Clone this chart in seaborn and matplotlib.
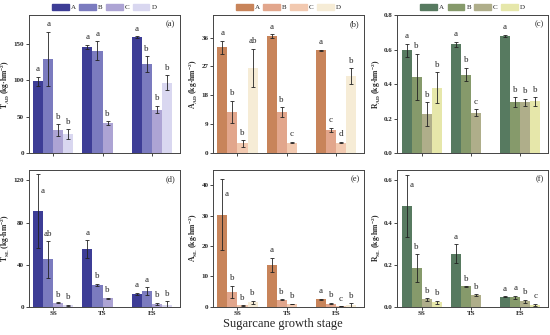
import numpy as np
import pandas as pd
import matplotlib
matplotlib.use("Agg")
import matplotlib.pyplot as plt
import seaborn as sns

# stages and treatments
stages = ["SS", "TS", "ES"]
treatments = ["A", "B", "C", "D"]

# panel (a) T_AD
t_ad = [[99, 130, 32, 26], [146, 141, 41, np.nan], [160, 122, 60, 97]]
t_ad_err = [[6, 37, 8, 7], [3, 13, 3, 0], [1, 11, 5, 10]]
t_ad_lab = [["a", "a", "b", "b"], ["a", "a", "b", ""], ["a", "b", "b", "b"]]

# panel (b) A_AD
a_ad = [[33, 12.8, 3.0, 26.5], [36.5, 12.8, 3.3, np.nan], [32, 7.2, 3.3, 24]]
a_ad_err = [[2, 3.5, 1, 6], [0.6, 1.5, 0.3, 0], [0.2, 0.7, 0.2, 2.5]]
a_ad_lab = [["a", "b", "b", "ab"], ["a", "b", "c", ""], ["a", "c", "d", "b"]]

# panel (c) R_AD
r_ad = [[0.595, 0.44, 0.225, 0.38], [0.63, 0.455, 0.235, np.nan], [0.68, 0.295, 0.295, 0.30]]
r_ad_err = [[0.04, 0.135, 0.07, 0.09], [0.015, 0.04, 0.02, 0], [0.005, 0.03, 0.02, 0.025]]
r_ad_lab = [["a", "b", "b", "b"], ["a", "b", "c", ""], ["a", "b", "b", "b"]]

# panel (d) T_SL
t_sl = [[91, 45, 4, 1.5], [55, 21, 8, np.nan], [12.5, 15, 3, 2]]
t_sl_err = [[35, 17.5, 0.6, 0.5], [8.5, 1, 0.5, 0], [1, 3.5, 1, 3.5]]
t_sl_lab = [["a", "ab", "b", "b"], ["a", "b", "b", ""], ["a", "a", "b", "b"]]

# panel (e) A_SL
a_sl = [[30.3, 5.0, 0.5, 1.5], [13.8, 2.3, 0.9, np.nan], [2.5, 1.1, 0.2, 0.6]]
a_sl_err = [[11.7, 2.0, 0.1, 0.5], [2.3, 0.2, 0.1, 0], [0.2, 0.3, 0.05, 0.6]]
a_sl_lab = [["a", "b", "b", "b"], ["a", "b", "b", ""], ["a", "b", "c", "b"]]

# panel (f) R_SL
r_sl = [[0.48, 0.185, 0.035, 0.022], [0.253, 0.097, 0.055, np.nan], [0.048, 0.045, 0.027, 0.008]]
r_sl_err = [[0.147, 0.065, 0.005, 0.008], [0.045, 0.002, 0.005, 0], [0.002, 0.008, 0.007, 0.006]]
r_sl_lab = [["a", "b", "b", "b"], ["a", "b", "b", ""], ["a", "a", "b", "c"]]

blues = ["#3d3d96", "#7b7bbf", "#ada4d4", "#d9d7f0"]
oranges = ["#c8845a", "#e2a68c", "#f2c9b0", "#f6ecd6"]
greens = ["#577a60", "#869a6b", "#afae8a", "#e6e7aa"]

sns.set_style("ticks")
plt.rcParams["font.family"] = ["Liberation Serif", "DejaVu Serif"]
plt.rcParams["mathtext.fontset"] = "custom"
plt.rcParams["mathtext.rm"] = "Liberation Serif"
plt.rcParams["mathtext.bf"] = "Liberation Serif:bold"

fig = plt.figure(figsize=(5.5, 3.35), dpi=100)

panels = [
    (t_ad, t_ad_err, t_ad_lab, blues, "T", "AD", [0, 50, 100, 150], 190, "(a)", "{:.0f}"),
    (a_ad, a_ad_err, a_ad_lab, oranges, "A", "AD", [0, 9, 18, 27, 36], 43, "(b)", "{:.0f}"),
    (r_ad, r_ad_err, r_ad_lab, greens, "R", "AD", [0, 0.2, 0.4, 0.6, 0.8], 0.8, "(c)", "{:.1f}"),
    (t_sl, t_sl_err, t_sl_lab, blues, "T", "SL", [0, 40, 80, 120], 130, "(d)", "{:.0f}"),
    (a_sl, a_sl_err, a_sl_lab, oranges, "A", "SL", [0, 10, 20, 30, 40], 45, "(e)", "{:.0f}"),
    (r_sl, r_sl_err, r_sl_lab, greens, "R", "SL", [0, 0.2, 0.4, 0.6], 0.65, "(f)", "{:.1f}"),
]

lefts = [0.052, 0.387, 0.722]
width = 0.275
rows = [(0.543, 0.412), (0.084, 0.409)]

for i, (vals, errs, labs, pal, sym, sub, ticks, ytop, tag, fmt) in enumerate(panels):
    row, col = divmod(i, 3)
    ax = fig.add_axes([lefts[col], rows[row][0], width, rows[row][1]])

    df = pd.DataFrame({
        "stage": np.repeat(stages, len(treatments)),
        "treatment": treatments * len(stages),
        "value": np.array(vals, dtype=float).ravel(),
    })
    sns.barplot(data=df, x="stage", y="value", hue="treatment", order=stages,
                hue_order=treatments, palette=pal, errorbar=None, width=0.82,
                saturation=1, linewidth=0, legend=False, ax=ax)

    # error bars and significance letters from the drawn bars
    for container, tr in zip(ax.containers, treatments):
        j = treatments.index(tr)
        for bar in container:
            h = bar.get_height()
            if np.isnan(h):
                continue
            xc = bar.get_x() + bar.get_width() / 2
            k = int(round(xc))
            e = errs[k][j]
            ax.errorbar(xc, h, yerr=e, fmt="none", ecolor="#222222",
                        elinewidth=0.6, capsize=1.6, capthick=0.6)
            ty = h + e + ytop * 0.025
            tx = xc
            if ty > 0.93 * ytop:
                # tall error bar: put the letter beside it
                ty = h + 0.12 * ytop
                tx = xc + bar.get_width() * 0.45
            ax.text(tx, ty, labs[k][j], ha="center", va="bottom", fontsize=6.5)

    ax.set_xlim(-0.5, 2.57)
    ax.set_ylim(0, ytop)
    ax.set_yticks(ticks)
    ax.set_yticklabels([fmt.format(t) for t in ticks], fontweight="bold")
    ax.tick_params(axis="both", labelsize=5, length=2, width=0.6, pad=1.2)
    ax.set_xlabel("")
    ax.set_ylabel(sym + r"$_{\mathbf{" + sub + r"}}$ (kg·hm$^{\mathbf{-2}}$)",
                  fontsize=5.5, fontweight="bold", labelpad=1)
    if row == 0:
        ax.set_xticklabels([])
    else:
        ax.set_xticklabels(stages, fontweight="bold")
    for s in ax.spines.values():
        s.set_visible(True)
        s.set_linewidth(0.7)
        s.set_color("#444444")
    ax.text(0.97, 0.96, tag, transform=ax.transAxes, ha="right", va="top",
            fontsize=6)

    if row == 0:
        handles = [plt.Rectangle((0, 0), 1, 1, color=c) for c in pal]
        ax.legend(handles, treatments, loc="lower center",
                  bbox_to_anchor=(0.5, 1.005), ncol=4, frameon=False,
                  fontsize=5, handlelength=2.4, handleheight=0.9,
                  handletextpad=0.3, columnspacing=0.5, borderaxespad=0.2)

fig.text(0.515, 0.015, "Sugarcane growth stage", ha="center", va="bottom",
         fontsize=9)

fig.savefig("out.png", dpi=100)
